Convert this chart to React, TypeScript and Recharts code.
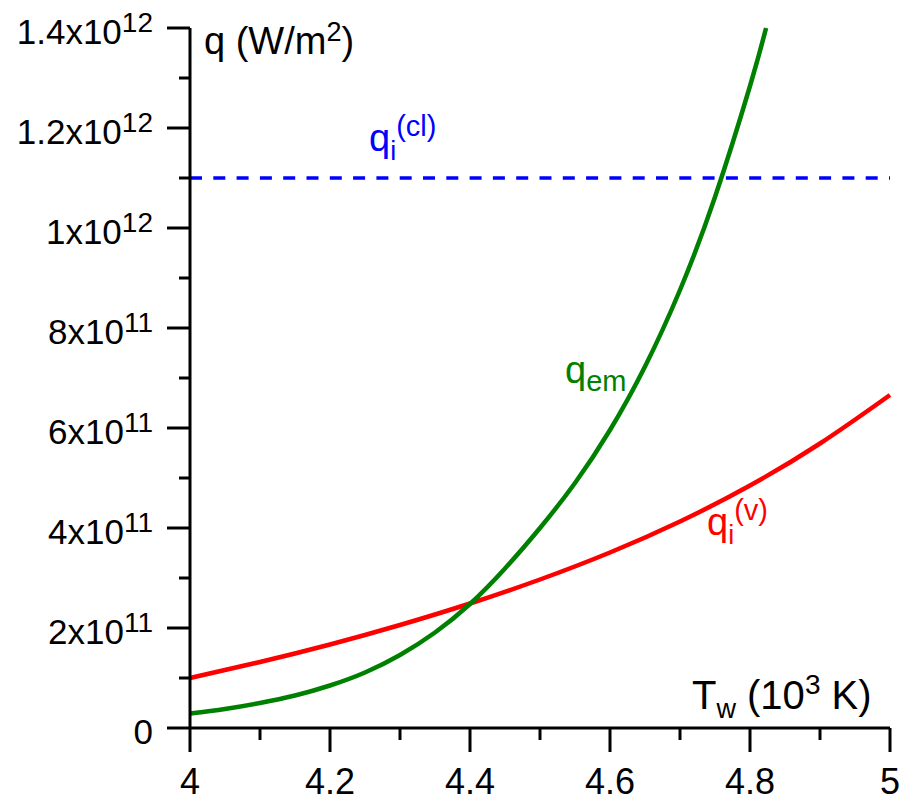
import React from 'react';
import { LineChart, Line, XAxis, YAxis, ReferenceLine, Customized } from 'recharts';

// wall temperature, 10^3 K
const tempV = [4.0, 4.1, 4.2, 4.3, 4.4, 4.5, 4.6, 4.7, 4.8, 4.9, 5.0];
// q_i^(v), W/m^2
const qiV = [1.0e11, 1.32e11, 1.67e11, 2.06e11, 2.49e11, 2.97e11, 3.51e11, 4.13e11, 4.85e11, 5.69e11, 6.66e11];

const tempEm = [4.0, 4.05, 4.1, 4.15, 4.2, 4.25, 4.3, 4.35, 4.4, 4.45, 4.5, 4.55, 4.6, 4.65, 4.7, 4.75, 4.8, 4.823];
// q_em, W/m^2
const qEm = [
  0.29e11, 0.38e11, 0.5e11, 0.65e11, 0.85e11, 1.11e11, 1.46e11, 1.91e11, 2.48e11,
  3.19e11, 4.0e11, 4.9e11, 5.96e11, 7.23e11, 8.76e11, 10.62e11, 12.84e11, 14.0e11,
];

// q_i^(cl), W/m^2
const qiCl = 1.1e12;

const xTicks = [4, 4.1, 4.2, 4.3, 4.4, 4.5, 4.6, 4.7, 4.8, 4.9, 5];
const yTicks = [0, 1e11, 2e11, 3e11, 4e11, 5e11, 6e11, 7e11, 8e11, 9e11, 1e12, 1.1e12, 1.2e12, 1.3e12, 1.4e12];

const dataV = tempV.map((T, i) => ({ T, q: qiV[i] }));
const dataEm = tempEm.map((T, i) => ({ T, q: qEm[i] }));

const FONT = '"Liberation Sans", Arial, sans-serif';

const XTick = (props: any) => {
  const { x, y, payload } = props;
  const major = Math.round(payload.value * 10) % 2 === 0;
  return (
    <g>
      <line x1={x} x2={x} y1={y} y2={y + (major ? 24 : 12)} stroke="#000" strokeWidth={3} />
      {major && (
        <text x={x} y={y + 66} textAnchor="middle" fontSize={36} fontFamily={FONT} fill="#000">
          {String(Math.round(payload.value * 10) / 10)}
        </text>
      )}
    </g>
  );
};

const YTick = (props: any) => {
  const { x, y, payload } = props;
  const n = Math.round(payload.value / 1e11);
  const major = n % 2 === 0;
  let main = '';
  let sup = '';
  if (n === 0) main = '0';
  else if (n < 10) { main = `${n}x10`; sup = '11'; }
  else { main = `${n / 10}x10`; sup = '12'; }
  return (
    <g>
      <line x1={x - (major ? 23 : 11)} x2={x} y1={y} y2={y} stroke="#000" strokeWidth={3} />
      {major && (
        <text x={x - 37} y={y + 16} textAnchor="end" fontSize={35} fontFamily={FONT} fill="#000">
          {main}
          {sup && <tspan dy={-12} fontSize={28}>{sup}</tspan>}
        </text>
      )}
    </g>
  );
};

const Labels = () => (
  <g fontFamily={FONT}>
    <text x={204} y={54} fontSize={38} fill="#000">
      q (W/m<tspan dy={-13} fontSize={27}>2</tspan><tspan dy={13}>)</tspan>
    </text>
    <text x={692} y={709} fontSize={40} fill="#000">
      T<tspan dy={9} fontSize={27}>w</tspan><tspan dy={-9}> (10</tspan>
      <tspan dy={-15} fontSize={28}>3</tspan><tspan dy={15}> K)</tspan>
    </text>
    <text x={369} y={151} fontSize={38} fill="#0000ff">
      q<tspan dy={9} fontSize={27}>i</tspan><tspan dy={-24} fontSize={29}>(cl)</tspan>
    </text>
    <text x={565} y={383} fontSize={38} fill="#008000">
      q<tspan dy={8} fontSize={29}>em</tspan>
    </text>
    <text x={707} y={535} fontSize={38} fill="#ff0000">
      q<tspan dy={9} fontSize={27}>i</tspan><tspan dy={-24} fontSize={29}>(v)</tspan>
    </text>
  </g>
);

const App = () => {
  return (
    <div style={{ position: 'absolute', left: 0, top: 0, background: '#fff' }}>
      <LineChart width={903} height={802} margin={{ top: 28, right: 13, bottom: 0, left: 0 }}>
        <XAxis
          type="number"
          dataKey="T"
          domain={[4, 5]}
          ticks={xTicks}
          tick={<XTick />}
          tickLine={false}
          tickSize={0}
          tickMargin={0}
          height={74}
          axisLine={{ stroke: '#000', strokeWidth: 3 }}
          allowDuplicatedCategory={false}
        />
        <YAxis
          type="number"
          domain={[0, 1.4e12]}
          ticks={yTicks}
          tick={<YTick />}
          tickLine={false}
          tickSize={0}
          tickMargin={0}
          width={190}
          axisLine={{ stroke: '#000', strokeWidth: 3 }}
        />
        <ReferenceLine y={qiCl} stroke="#0000ff" strokeWidth={3.5} strokeDasharray="12 11.3" />
        <Line data={dataV} dataKey="q" type="natural" stroke="#ff0000" strokeWidth={4.5} dot={false} isAnimationActive={false} />
        <Line data={dataEm} dataKey="q" type="natural" stroke="#008000" strokeWidth={4.5} dot={false} isAnimationActive={false} />
        <Customized component={Labels} />
      </LineChart>
    </div>
  );
};

export default App;
